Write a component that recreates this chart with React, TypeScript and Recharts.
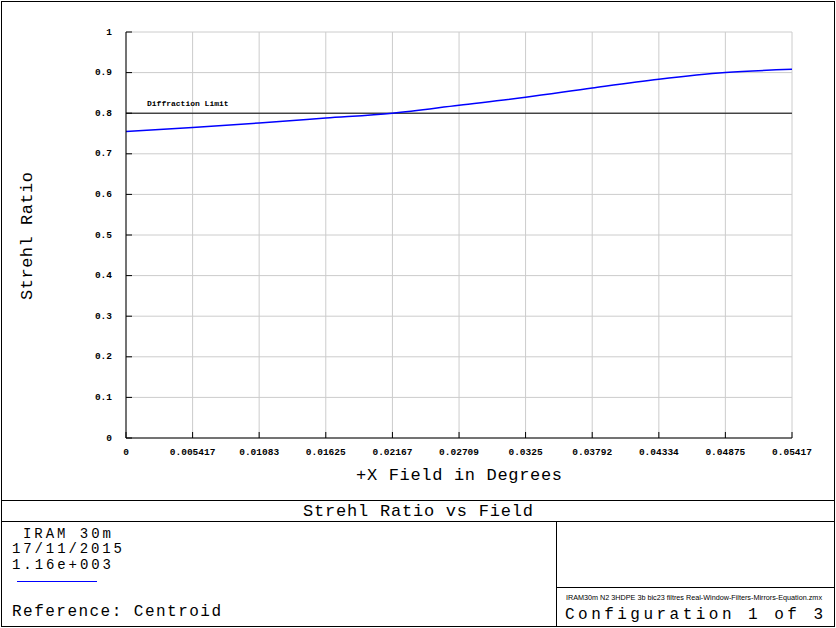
import React from 'react';
import { LineChart, Line, XAxis, YAxis, CartesianGrid, ReferenceLine } from 'recharts';

const fieldDeg = [0, 0.005417, 0.01083, 0.01625, 0.02167, 0.02709, 0.0325, 0.03792, 0.04334, 0.04875, 0.05417];
const strehl = [0.755, 0.765, 0.776, 0.788, 0.8, 0.8195, 0.839, 0.862, 0.8835, 0.9, 0.908];
const xTickLabels = ['0', '0.005417', '0.01083', '0.01625', '0.02167', '0.02709', '0.0325', '0.03792', '0.04334', '0.04875', '0.05417'];
const yTicks = [0, 0.1, 0.2, 0.3, 0.4, 0.5, 0.6, 0.7, 0.8, 0.9, 1];
const yTickLabels = ['0', '0.1', '0.2', '0.3', '0.4', '0.5', '0.6', '0.7', '0.8', '0.9', '1'];
const diffractionLimit = 0.8;

const data = fieldDeg.map((f, i) => ({ field: f, strehl: strehl[i] }));

const MONO = '"Liberation Mono", "Courier New", monospace';
const tickFont = { fontFamily: MONO, fontSize: 9.5, fontWeight: 700, fill: '#000' };

const LeftTick = (props: any) => {
  const { x, y, index } = props;
  return (
    <g>
      <line x1={x + 14} x2={x + 20} y1={y} y2={y} stroke="#000" />
      <text x={x} y={y} textAnchor="end" dominantBaseline="central" style={tickFont}>
        {yTickLabels[index]}
      </text>
    </g>
  );
};

const RightTick = (props: any) => {
  const { x, y } = props;
  return <line x1={x - 6} x2={x} y1={y} y2={y} stroke="#000" />;
};

const BottomTick = (props: any) => {
  const { x, y, index } = props;
  return (
    <g>
      <line x1={x} x2={x} y1={y - 10} y2={y - 16} stroke="#000" />
      <text x={x} y={y + 4} textAnchor="middle" dominantBaseline="central" style={tickFont}>
        {xTickLabels[index]}
      </text>
    </g>
  );
};

const TopTick = (props: any) => {
  const { x, y } = props;
  return <line x1={x} x2={x} y1={y} y2={y + 6} stroke="#000" />;
};

const XTitle = (props: any) => {
  const vb = props.viewBox;
  return (
    <text x={vb.x + vb.width / 2} y={vb.y + 42} textAnchor="middle" fontFamily={MONO} fontSize={17}
      textLength={206} lengthAdjust="spacing" fill="#000">
      +X Field in Degrees
    </text>
  );
};

const YTitle = (props: any) => {
  const vb = props.viewBox;
  const cx = vb.x - 59;
  const cy = vb.y + vb.height / 2 + 1;
  return (
    <text x={cx} y={cy} textAnchor="middle" dominantBaseline="central" fontFamily={MONO} fontSize={17}
      textLength={128} lengthAdjust="spacing" fill="#000" transform={`rotate(-90, ${cx}, ${cy})`}>
      Strehl Ratio
    </text>
  );
};

const DiffLabel = (props: any) => {
  const vb = props.viewBox;
  return (
    <text x={vb.x + 21} y={vb.y - 7} fontFamily={MONO} fontSize={8} fontWeight={700} fill="#000">
      Diffraction Limit
    </text>
  );
};

export default function App() {
  return (
    <div style={{ position: 'absolute', left: 0, top: 0, width: 836, height: 628, background: '#fff' }}>
      <LineChart width={836} height={628} data={data} margin={{ top: 32, right: 44, bottom: 160, left: 86 }}>
        <CartesianGrid stroke="#cccccc" strokeWidth={1} />
        <XAxis dataKey="field" type="number" domain={[0, 0.05417]} ticks={fieldDeg} interval={0}
          height={30} tickSize={0} tickMargin={10} tick={<BottomTick />} axisLine={{ stroke: '#000' }}
          label={{ content: <XTitle /> }} />
        <XAxis xAxisId="top" orientation="top" dataKey="field" type="number" domain={[0, 0.05417]}
          ticks={fieldDeg} interval={0} height={0} tickSize={0} tickMargin={0} tick={<TopTick />}
          axisLine={{ stroke: '#000' }} />
        <YAxis type="number" domain={[0, 1]} ticks={yTicks} interval={0} width={40} tickSize={0}
          tickMargin={14} tick={<LeftTick />} axisLine={{ stroke: '#000' }}
          label={{ content: <YTitle /> }} />
        <YAxis yAxisId="right" orientation="right" type="number" domain={[0, 1]} ticks={yTicks}
          interval={0} width={0} tickSize={0} tickMargin={0} tick={<RightTick />}
          axisLine={{ stroke: '#000' }} />
        <ReferenceLine y={diffractionLimit} stroke="#000" strokeWidth={1} label={{ content: <DiffLabel /> }} />
        <Line type="monotone" dataKey="strehl" stroke="#0000ff" strokeWidth={1.5} dot={false}
          isAnimationActive={false} />
      </LineChart>
      <svg width={836} height={628} style={{ position: 'absolute', left: 0, top: 0, pointerEvents: 'none' }}>
        <rect x={1.5} y={1.5} width={833} height={625} fill="none" stroke="#000" />
        <line x1={1.5} x2={834.5} y1={500.5} y2={500.5} stroke="#000" />
        <line x1={1.5} x2={834.5} y1={521.5} y2={521.5} stroke="#000" />
        <line x1={556.5} x2={556.5} y1={521.5} y2={626.5} stroke="#000" />
        <line x1={556.5} x2={834.5} y1={587.5} y2={587.5} stroke="#000" />
        <text x={418} y={516} textAnchor="middle" fontFamily={MONO} fontSize={17} textLength={230}
          lengthAdjust="spacing" fill="#000">Strehl Ratio vs Field</text>
        <text x={23} y={538} fontFamily={MONO} fontSize={14} textLength={88} lengthAdjust="spacing" fill="#000">IRAM 30m</text>
        <text x={12} y={553} fontFamily={MONO} fontSize={14} textLength={110} lengthAdjust="spacing" fill="#000">17/11/2015</text>
        <text x={12} y={569} fontFamily={MONO} fontSize={14} textLength={99} lengthAdjust="spacing" fill="#000">1.16e+003</text>
        <line x1={17} x2={97} y1={581.5} y2={581.5} stroke="#0000ff" />
        <text x={12} y={616} fontFamily={MONO} fontSize={16} textLength={209} lengthAdjust="spacing" fill="#000">Reference: Centroid</text>
        <text x={566} y={600} fontFamily='"Liberation Sans Narrow", "Liberation Sans", sans-serif' fontSize={6.5}
          textLength={256} lengthAdjust="spacingAndGlyphs" fill="#000">IRAM30m N2 3HDPE 3b bic23 filtres  Real-Window-Filters-Mirrors-Equation.zmx</text>
        <text x={565} y={619} fontFamily={MONO} fontSize={16} textLength={258} lengthAdjust="spacing" fill="#000">Configuration 1 of 3</text>
      </svg>
    </div>
  );
}
